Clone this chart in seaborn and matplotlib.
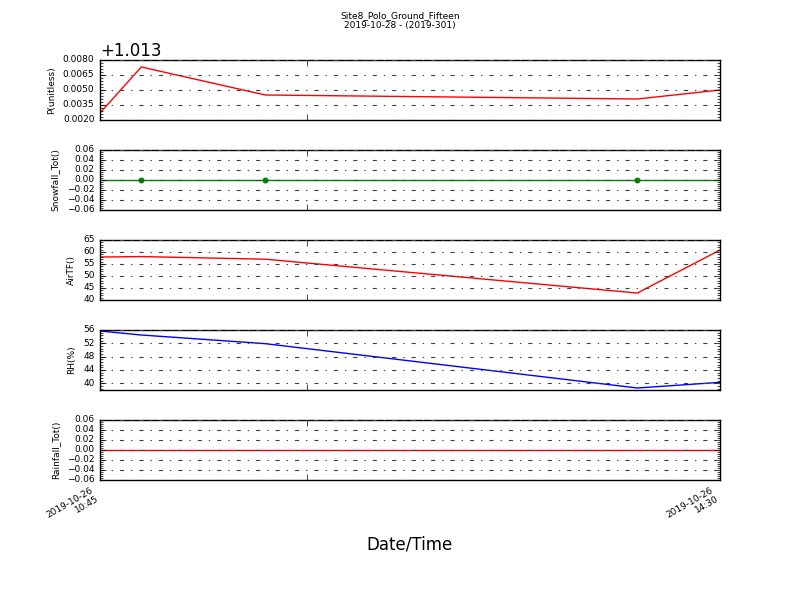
import pandas as pd
import matplotlib
matplotlib.use("Agg")
import matplotlib.pyplot as plt
import matplotlib.dates as mdates
import seaborn as sns
from matplotlib.ticker import AutoMinorLocator, ScalarFormatter, FixedLocator

# data
times = ["2019-10-26 10:45", "2019-10-26 11:00", "2019-10-26 11:45",
         "2019-10-26 14:00", "2019-10-26 14:30"]
pressure = [1.0157, 1.0203, 1.0175, 1.0171, 1.0180]
snowfall = [0.0, 0.0, 0.0, 0.0, 0.0]
air_temp = [57.9, 58.1, 57.0, 42.9, 60.8]
rel_hum = [55.7, 54.5, 51.9, 38.6, 40.3]
rainfall = [0.0, 0.0, 0.0, 0.0, 0.0]

xtick_times = ["2019-10-26 10:45", "2019-10-26 12:00", "2019-10-26 14:30"]
xtick_labels = ["2019-10-26\n10:45", "", "2019-10-26\n14:30"]

df = pd.DataFrame({
    "time": pd.to_datetime(times),
    "P(unitless)": pressure,
    "Snowfall_Tot()": snowfall,
    "AirTF()": air_temp,
    "RH(%)": rel_hum,
    "Rainfall_Tot()": rainfall,
})

panels = [
    ("P(unitless)", "r", (1.015, 1.021), [1.0150, 1.0165, 1.0180, 1.0195, 1.0210]),
    ("Snowfall_Tot()", "g", (-0.06, 0.06), [-0.06, -0.04, -0.02, 0.0, 0.02, 0.04, 0.06]),
    ("AirTF()", "r", (40, 65), [40, 45, 50, 55, 60, 65]),
    ("RH(%)", "b", (38, 56), [40, 44, 48, 52, 56]),
    ("Rainfall_Tot()", "r", (-0.06, 0.06), [-0.06, -0.04, -0.02, 0.0, 0.02, 0.04, 0.06]),
]

plt.style.use("classic")
fig, axes = plt.subplots(5, 1, sharex=True, figsize=(8, 6), dpi=100)
fig.subplots_adjust(left=0.125, right=0.9, top=0.9, bottom=0.2, hspace=0.5)

for ax, (col, color, ylim, yticks) in zip(axes, panels):
    if col == "Snowfall_Tot()":
        sns.lineplot(data=df, x="time", y=col, ax=ax, color=color, lw=1,
                     marker="o", markersize=3.5, mec=color, markevery=[1, 2, 3])
    else:
        sns.lineplot(data=df, x="time", y=col, ax=ax, color=color, lw=1)
    ax.set_ylim(*ylim)
    ax.yaxis.set_major_locator(FixedLocator(yticks))
    ax.yaxis.set_minor_locator(AutoMinorLocator(5))
    ax.yaxis.grid(True, linestyle="-.", color="0.25", lw=0.8)
    ax.xaxis.grid(False)
    ax.set_ylabel(col, fontsize=6.5)
    ax.set_xlabel("")
    ax.tick_params(axis="both", labelsize=6.5)

fmt = ScalarFormatter(useOffset=1.013)
axes[0].yaxis.set_major_formatter(fmt)
axes[0].yaxis.get_offset_text().set_fontsize(12)

xt = pd.to_datetime(xtick_times)
axes[-1].set_xlim(df["time"].iloc[0], df["time"].iloc[-1])
axes[-1].set_xticks(mdates.date2num(xt))
axes[-1].set_xticklabels(xtick_labels)
axes[-1].xaxis.set_minor_locator(FixedLocator([]))
fig.autofmt_xdate(rotation=30, ha="right")
for ax in axes:
    ax.tick_params(axis="x", labelsize=6.5)

fig.suptitle("Site8_Polo_Ground_Fifteen\n2019-10-28 - (2019-301)", fontsize=6.5, y=0.982)
fig.text(0.512, 0.093, "Date/Time", ha="center", va="center", fontsize=12)

plt.savefig("out.png", dpi=100, facecolor="white")
